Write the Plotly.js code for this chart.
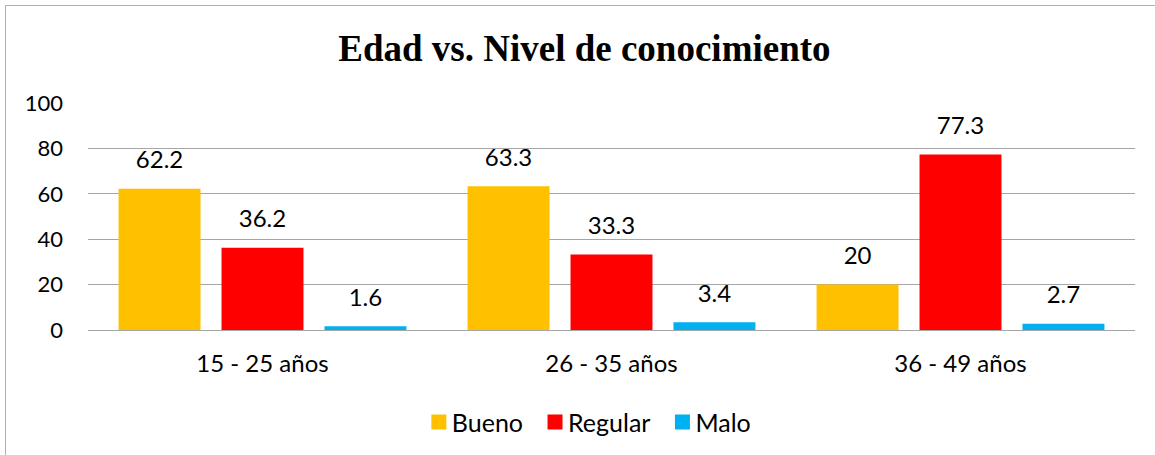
<!DOCTYPE html>
<html>
<head>
<meta charset="utf-8">
<script src="https://cdn.plot.ly/plotly-3.0.1.min.js"></script>
<style>
html,body{margin:0;padding:0;background:#fff;}
#wrap{position:relative;width:1155px;height:455px;overflow:hidden;}
#frame{position:absolute;left:5px;top:5px;width:1200px;height:500px;border-left:1.5px solid #b0b0b0;border-top:1.5px solid #b0b0b0;pointer-events:none;}
#chart{position:absolute;left:0;top:0;width:1155px;height:455px;}
</style>
</head>
<body>
<div id="wrap"><div id="chart"></div><div id="frame"></div></div>
<script>
const categories = ["15 - 25 años", "26 - 35 años", "36 - 49 años"];
const bueno = [62.2, 63.3, 20];
const regular = [36.2, 33.3, 77.3];
const malo = [1.6, 3.4, 2.7];
const seriesNames = ["Bueno", "Regular", "Malo"];
const yTicks = [0, 20, 40, 60, 80, 100];

const colors = ["#FFC000", "#FF0000", "#00B0F0"];
const font = "Lato, Calibri, 'Liberation Sans', sans-serif";
const vals = [bueno, regular, malo];

const barTraces = vals.map((v, i) => ({
  type: "bar",
  name: seriesNames[i],
  x: categories,
  y: v,
  marker: {color: colors[i]},
  hoverinfo: "skip"
}));

const labelTraces = vals.map((v, i) => ({
  type: "scatter",
  mode: "markers+text",
  showlegend: false,
  x: categories,
  y: v,
  text: v.map(String),
  textposition: "top center",
  marker: {size: 22, opacity: 0},
  textfont: {family: font, size: 24, color: "#000"},
  cliponaxis: false,
  hoverinfo: "skip"
}));

const layout = {
  width: 1155, height: 455,
  margin: {l: 88, r: 20, t: 103, b: 125},
  paper_bgcolor: "#fff", plot_bgcolor: "#fff",
  title: {
    text: "<b>Edad vs. Nivel de conocimiento</b>",
    font: {family: "'Liberation Serif', 'Times New Roman', serif", size: 37, color: "#000"},
    x: 0.506, xanchor: "center", y: 0.895, yanchor: "middle"
  },
  barmode: "group",
  bargap: 0.115,
  bargroupgap: 0.204,
  scattermode: "group",
  scattergap: 0.115,
  showlegend: true,
  legend: {
    orientation: "h", x: 0.5055, xanchor: "center", xref: "container",
    y: 0.072, yanchor: "middle", yref: "container",
    font: {family: font, size: 25, color: "#000"},
    itemwidth: 30, traceorder: "normal"
  },
  xaxis: {
    type: "category",
    tickfont: {family: font, size: 24, color: "#000"},
    showgrid: false, showline: true, linecolor: "#a6a6a6", linewidth: 1,
    ticks: "", ticklabelstandoff: 12, fixedrange: true
  },
  yaxis: {
    range: [0, 100],
    tickvals: yTicks,
    tickfont: {family: font, size: 22, color: "#000"},
    showgrid: true, gridcolor: "#a6a6a6", gridwidth: 1,
    zeroline: true, zerolinecolor: "#a6a6a6", zerolinewidth: 1,
    showline: false, ticks: "", ticklabelstandoff: 24, fixedrange: true
  }
};

Plotly.newPlot("chart", barTraces.concat(labelTraces), layout, {displayModeBar: false, staticPlot: true}).then(() => {
  document.querySelectorAll("#chart .legendpoints path").forEach(p => {
    const t = p.getAttribute("transform") || "";
    p.setAttribute("transform", t + " translate(7,0) scale(1.25)");
  });
});
</script>
</body>
</html>
